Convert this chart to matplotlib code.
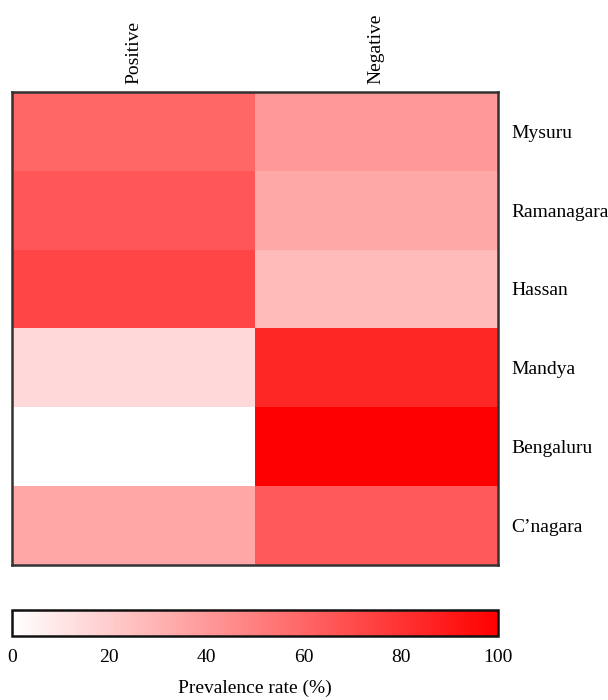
import numpy as np
import matplotlib.pyplot as plt
from matplotlib.colors import LinearSegmentedColormap

plt.rcParams['font.family'] = ['Liberation Serif', 'DejaVu Serif']

districts = ['Mysuru', 'Ramanagara', 'Hassan', 'Mandya', 'Bengaluru', 'C\u2019nagara']
groups = ['Positive', 'Negative']
positive = [60, 66, 73, 15, 0, 35]
negative = [40, 34, 27, 85, 100, 65]

data = np.array([positive, negative]).T

cmap = LinearSegmentedColormap.from_list('wr', ['#ffffff', '#ff0000'])

fig = plt.figure(figsize=(6.08, 7.0), dpi=100)
ax = fig.add_axes([0.0197, 0.193, 0.799, 0.6757])
im = ax.imshow(data, cmap=cmap, vmin=0, vmax=100, aspect='auto', interpolation='nearest')

ax.set_xticks(range(len(groups)))
ax.set_xticklabels(groups, rotation=90, fontsize=14)
ax.xaxis.tick_top()
ax.set_yticks(range(len(districts)))
ax.set_yticklabels(districts, fontsize=14)
ax.yaxis.tick_right()
ax.tick_params(length=0, pad=10)
ax.tick_params(axis='x', pad=6)
for s in ax.spines.values():
    s.set_color('#333333')
    s.set_linewidth(1.8)

cax = fig.add_axes([0.0197, 0.0914, 0.799, 0.037])
cb = fig.colorbar(im, cax=cax, orientation='horizontal')
cb.set_ticks([0, 20, 40, 60, 80, 100])
cb.ax.tick_params(length=0, labelsize=14, pad=9)
cb.outline.set_edgecolor('#111111')
cb.outline.set_linewidth(1.8)
cb.set_label('Prevalence rate (%)', fontsize=14, labelpad=10)

fig.savefig('out.png', dpi=100)
